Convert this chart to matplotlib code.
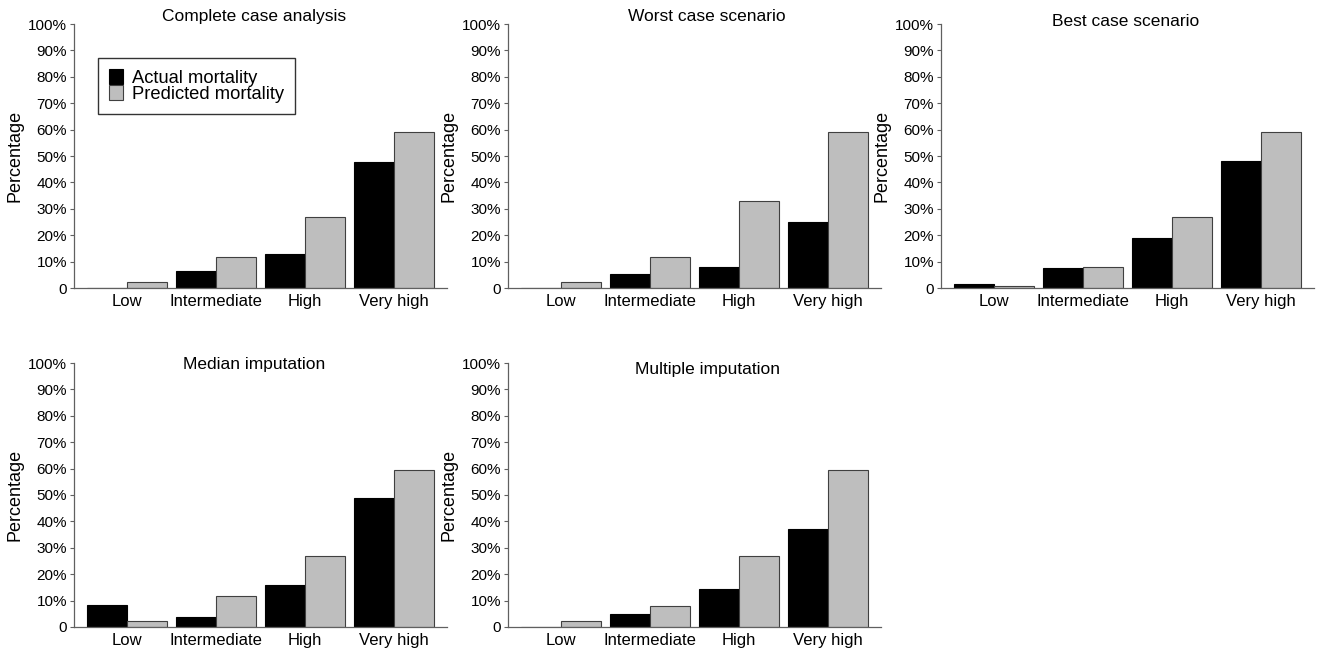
import matplotlib
matplotlib.use('Agg')
import matplotlib.pyplot as plt
import numpy as np

plt.rcParams['font.family'] = ['Liberation Sans', 'DejaVu Sans']

#------------------------------------- DATOS ------------------------------------

categorias = ['Low', 'Intermediate', 'High', 'Very high']
titulos = ['Complete case analysis', 'Worst case scenario', 'Best case scenario',
           'Median imputation', 'Multiple imputation']

actual = [
    [0.0, 6.4, 12.9, 47.8],
    [0.0, 5.2, 7.8, 25.0],
    [1.5, 7.6, 18.8, 48.1],
    [8.5, 3.6, 15.8, 48.7],
    [0.0, 5.1, 14.4, 37.0],
]
predicha = [
    [2.2, 11.7, 26.9, 59.2],
    [2.2, 11.7, 32.8, 59.2],
    [0.8, 7.8, 26.8, 59.2],
    [2.2, 11.8, 27.0, 59.3],
    [2.2, 8.0, 27.0, 59.3],
]

yticks = np.arange(0, 101, 10)
ytick_labels = ['0'] + ['%d%%' % v for v in yticks[1:]]

#------------------------------------- FIGURA ------------------------------------

fig = plt.figure(figsize=(13.2, 6.48), dpi=100)

W = 373 / 1320
H = 264 / 648
izq = [74 / 1320, 508 / 1320, 941 / 1320]
abajo = [(648 - 288) / 648, (648 - 627) / 648]
# posicion de los titulos (coordenadas de ejes)
pos_titulo = [(0.483, 1.027), (0.534, 1.027), (0.495, 1.011), (0.483, 0.996), (0.534, 0.977)]

x = np.arange(len(categorias))
ancho = 0.45

for i in range(5):
    fila, col = divmod(i, 3)
    ax = fig.add_axes([izq[col], abajo[fila], W, H])
    ax.bar(x - ancho / 2, actual[i], ancho, color='black', edgecolor='black',
           linewidth=0.8, label='Actual mortality')
    ax.bar(x + ancho / 2, predicha[i], ancho, color='#bebebe', edgecolor='#404040',
           linewidth=0.8, label='Predicted mortality')

    ax.set_xlim(-0.6, 3.6)
    ax.set_ylim(0, 100)
    ax.set_yticks(yticks)
    ax.set_yticklabels(ytick_labels)
    ax.set_xticks(x)
    ax.set_xticklabels(categorias)
    ax.tick_params(axis='x', length=0, pad=4, labelsize=12)
    ax.tick_params(axis='y', length=3, width=0.8, pad=2, labelsize=11, color='#606060')

    for lado in ['top', 'right']:
        ax.spines[lado].set_visible(False)
    for lado in ['left', 'bottom']:
        ax.spines[lado].set_color('#606060')
        ax.spines[lado].set_linewidth(0.9)

    ax.set_ylabel('Percentage', fontsize=13, labelpad=3)
    tx, ty = pos_titulo[i]
    ax.text(tx, ty, titulos[i], transform=ax.transAxes, ha='center', va='center', fontsize=12.5)

    if i == 0:
        leg = ax.legend(loc='upper left', bbox_to_anchor=(0.064, 0.871), fontsize=13.2,
                        frameon=True, fancybox=False, edgecolor='black',
                        handlelength=0.78, handleheight=0.9, handletextpad=0.5,
                        labelspacing=-0.1, borderpad=0.6, borderaxespad=0)
        leg.get_frame().set_linewidth(1.0)

fig.savefig('out.png', dpi=100)
